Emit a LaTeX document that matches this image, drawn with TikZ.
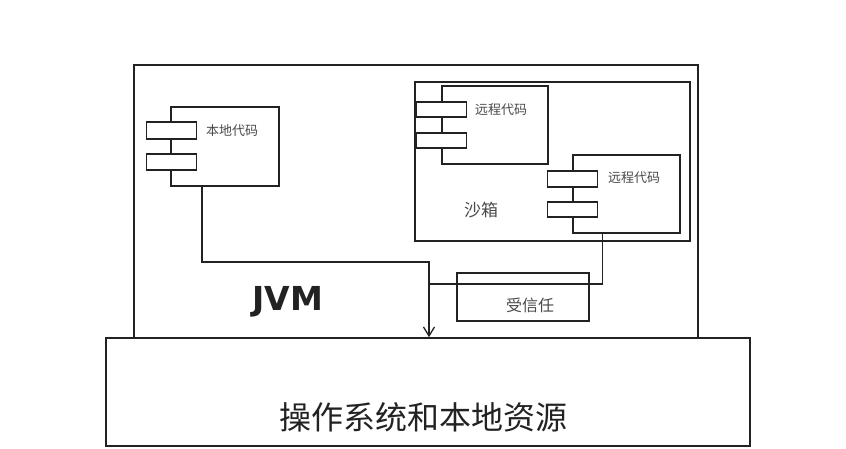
\documentclass[tikz,border=0pt]{standalone}
\usepackage{xcolor}
\usepackage{fontspec}
\newfontfamily\cjk{Noto Sans CJK SC}
\newfontfamily\headfont{DejaVu Sans}
\usepackage{tikz}
\usetikzlibrary{positioning,arrows.meta}
\definecolor{ink}{HTML}{222222}
\definecolor{soft}{HTML}{4A4A4A}
\tikzset{
  frame/.style={rectangle, draw=ink, line width=1.6pt, fill=white, inner sep=0pt},
  comp/.style={frame, line width=1.4pt},
  tab/.style={frame, line width=1.4pt, minimum width=50pt},
  tag/.style={font=\cjk\fontsize{13}{13}\selectfont, text=soft, inner sep=0pt, anchor=west},
  arr/.style={-{Straight Barb[length=9pt,width=11pt,line width=1.3pt]}, line width=1.4pt, draw=ink},
  link/.style={line width=1.4pt, draw=ink},
}
\begin{document}
\begin{tikzpicture}[x=1pt,y=-1pt]
  \useasboundingbox (0,0) rectangle (846,448);
  \node[frame, minimum width=564pt, minimum height=273pt] (jvm) at (416,201.5) {};
  \node[frame, minimum width=275pt, minimum height=159pt] (sandbox) at (552.5,161.5) {};
  % local code
  \node[comp, minimum width=108pt, minimum height=79pt] (local) at (225,146.5) {};
  \node[tab, minimum height=17pt] (ltabA) at (171.5,130.5) {};
  \node[tab, minimum height=16pt] (ltabB) at (171.5,162) {};
  \node[tag] (localtxt) at (206,131) {本地代码};
  % remote code in sandbox
  \node[comp, minimum width=106pt, minimum height=78pt] (remoteA) at (495,125) {};
  \node[tab, minimum height=15pt] (rtabA) at (441.5,109.5) {};
  \node[tab, minimum height=15pt] (rtabB) at (441.5,140.5) {};
  \node[tag] (remoteAtxt) at (475,110) {远程代码};
  \node[comp, minimum width=107pt, minimum height=78pt] (remoteB) at (626.5,194) {};
  \node[tab, minimum height=16pt] (rtabC) at (572.5,179) {};
  \node[tab, minimum height=15pt] (rtabD) at (572.5,209.5) {};
  \node[tag] (remoteBtxt) at (608,178) {远程代码};
  \node[font=\cjk\fontsize{17}{17}\selectfont, text=soft] (sandtxt) at (481,210) {沙箱};
  % trusted + JVM label
  \node[comp, minimum width=132pt, minimum height=48pt] (trusted) at (523,297) {};
  \node[font=\cjk\fontsize{16}{16}\selectfont, text=soft] (trustedtxt) at (530,305) {受信任};
  \node[font=\headfont\bfseries\fontsize{33}{33}\selectfont, text=ink] (jvmtxt) at (288,302) {JVM};
  % OS
  \node[frame, minimum width=644pt, minimum height=108pt] (os) at (428,392) {};
  \node[font=\cjk\fontsize{32}{32}\selectfont, text=ink] (ostxt) at (423,417) {操作系统和本地资源};
  \coordinate (bend) at (429,262);
  \coordinate (join) at (429,284);
  \draw[link] ([xshift=-24pt]remoteB.south) |- (join);
  \draw[arr] ([xshift=-23pt]local.south) |- (bend) -- (bend |- os.north);
\end{tikzpicture}
\end{document}
